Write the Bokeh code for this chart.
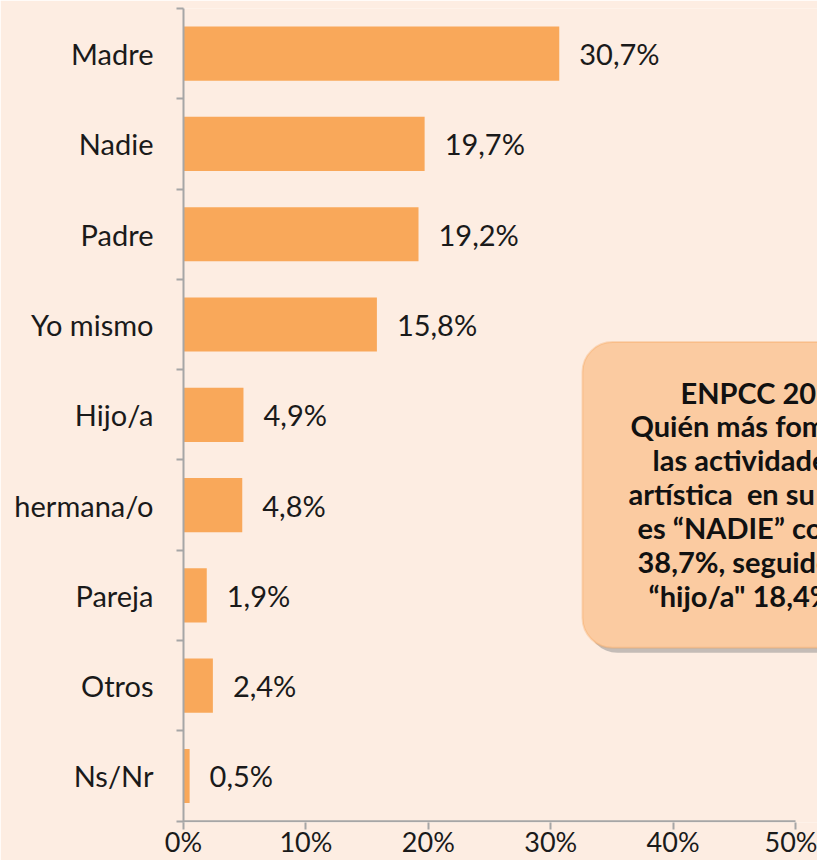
from bokeh.plotting import figure
from bokeh.models import Range1d, FixedTicker, BoxAnnotation, Label
from bokeh.embed import file_html
from bokeh.resources import INLINE
from bokeh.core.properties import value

categories = ["Madre", "Nadie", "Padre", "Yo mismo", "Hijo/a", "hermana/o", "Pareja", "Otros", "Ns/Nr"]
values = [30.7, 19.7, 19.2, 15.8, 4.9, 4.8, 1.9, 2.4, 0.5]
value_labels = ["30,7%", "19,7%", "19,2%", "15,8%", "4,9%", "4,8%", "1,9%", "2,4%", "0,5%"]
x_ticks = [0, 10, 20, 30, 40, 50]
x_tick_labels = ["0%", "10%", "20%", "30%", "40%", "50%"]
callout_lines = [
    "ENPCC 2012",
    "Quién más fomenta",
    "las actividades",
    "artística\u00a0 en su hogar",
    "es \u201cNADIE\u201d con",
    "38,7%, seguido de",
    "\u201chijo/a\" 18,4%",
]

BG = "#FDEDE2"
BAR = "#F9A85A"
AXIS = "#A6A6A6"
TXT = "#1A1A1A"
FONT = "Lato"

W, H = 817, 860
FRAME_L, FRAME_T, FRAME_B = 183, 8, 823
n = len(categories)
ypos = [n - 0.5 - i for i in range(n)]
PX_X = 12.24
X_END = (W - FRAME_L) / PX_X
Y_PAD = 0.015

p = figure(width=W, height=H, output_backend="svg", toolbar_location=None,
           x_range=Range1d(0, X_END), y_range=Range1d(-Y_PAD, n),
           min_border_left=FRAME_L, min_border_right=0, min_border_top=FRAME_T,
           min_border_bottom=H - FRAME_B,
           background_fill_color=BG, border_fill_color=BG, outline_line_color=None)
p.grid.visible = False

# bars
p.hbar(y=ypos, left=0, right=values, height=0.6, fill_color=BAR, line_color=None)
p.text(x=values, y=ypos, text=value_labels, x_offset=20, text_baseline="middle",
       text_align="left", text_font=value(FONT), text_font_size="29px", text_color=TXT)

# x axis line only up to 50%
p.segment(x0=[x_ticks[0]], y0=[0], x1=[x_ticks[-1]], y1=[0], line_color=AXIS, line_width=2)

# y axis
yax = p.yaxis[0]
yax.ticker = FixedTicker(ticks=ypos, minor_ticks=list(range(n + 1)))
yax.major_label_overrides = {y: c for y, c in zip(ypos, categories)}
yax.major_tick_out = 0
yax.major_tick_in = 0
yax.minor_tick_out = 7
yax.minor_tick_in = 0
yax.minor_tick_line_color = AXIS
yax.minor_tick_line_width = 2
yax.axis_line_color = AXIS
yax.axis_line_width = 2
yax.major_label_standoff = 23
yax.major_label_text_font = FONT
yax.major_label_text_font_size = "29px"
yax.major_label_text_color = TXT

# x axis
xax = p.xaxis[0]
xax.ticker = FixedTicker(ticks=x_ticks)
xax.major_label_overrides = {t: l for t, l in zip(x_ticks, x_tick_labels)}
xax.axis_line_color = None
xax.major_tick_out = 7
xax.major_tick_in = 0
xax.major_tick_line_color = AXIS
xax.major_tick_line_width = 2
xax.minor_tick_line_color = None
xax.major_label_standoff = -5
xax.major_label_text_font = FONT
xax.major_label_text_font_size = "27px"
xax.major_label_text_color = TXT

# callout box (pixel helpers -> data coords)
def dx(px):
    return (px - FRAME_L) / PX_X
PX_Y = (FRAME_B - FRAME_T) / (n + Y_PAD)
def dy(py):
    return (FRAME_B - Y_PAD * PX_Y - py) / PX_Y

shadow = BoxAnnotation(left=dx(587), right=dx(960), top=dy(347), bottom=dy(653),
                       fill_color="#8C8C8C", fill_alpha=0.5, line_color=None, border_radius=30)
box = BoxAnnotation(left=dx(582), right=dx(955), top=dy(342), bottom=dy(648),
                    fill_color="#FBCBA1", fill_alpha=1.0, line_color="#F5A04F", line_width=2,
                    border_radius=30)
p.add_layout(shadow)
p.add_layout(box)

starts = [680, 630, 652, 628, 637, 637, 648]
for i, (line, sx) in enumerate(zip(callout_lines, starts)):
    p.add_layout(Label(x=dx(sx), y=dy(392 + 34 * i), text=line, text_align="left",
                       text_baseline="middle", text_font=FONT, text_font_style="bold",
                       text_font_size="29px", text_color="#111111"))

html = file_html(p, INLINE)
html = html.replace("<body>", '<body style="background-color:%s;">' % BG, 1)
open("out.html", "w").write(html)
